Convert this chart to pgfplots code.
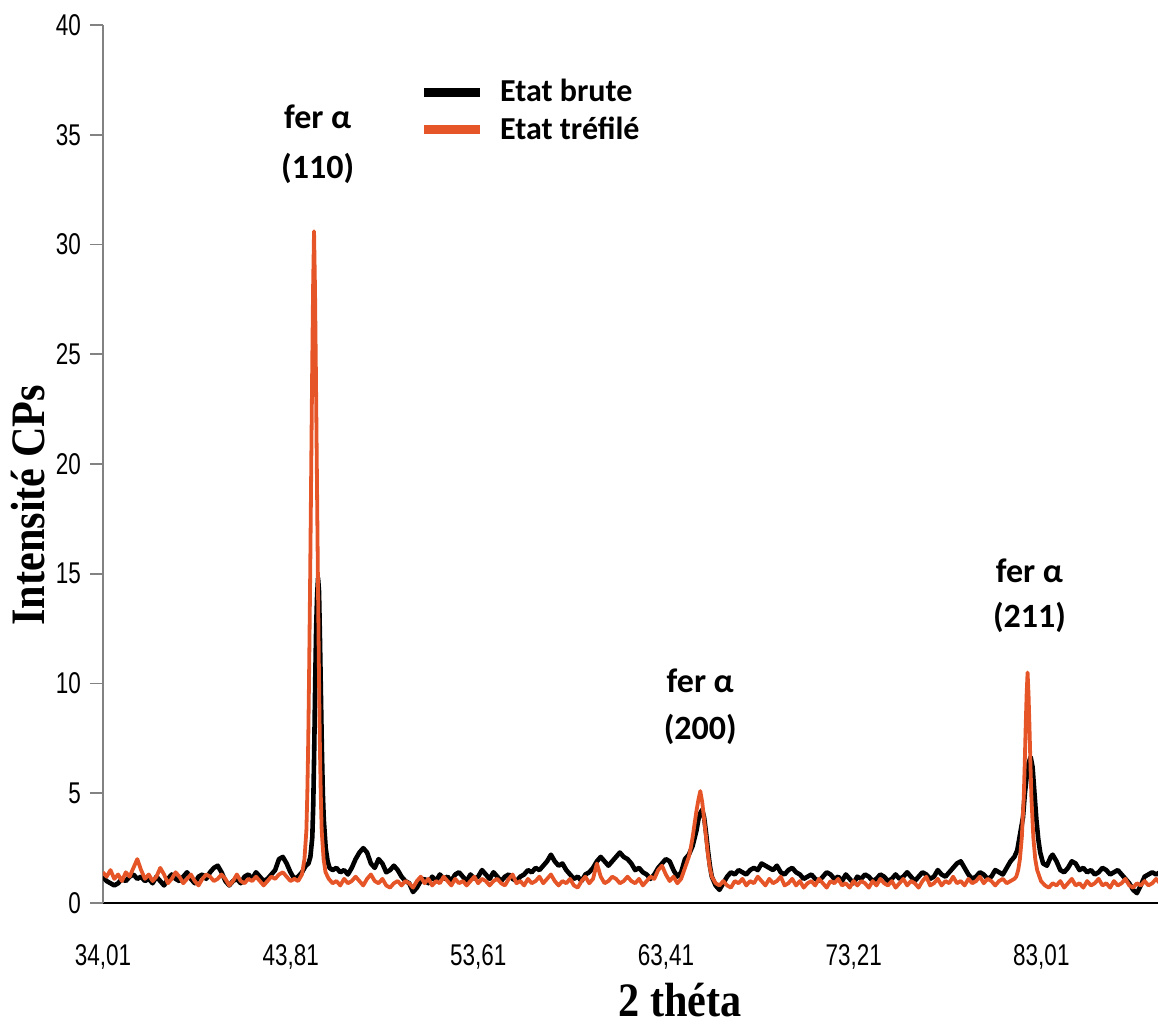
\documentclass[border=0pt]{standalone}
\usepackage{fontspec}
\usepackage{pgfplots}
\pgfplotsset{compat=1.18}
\usepackage{pgfplotstable}
\setmainfont{Liberation Sans}
\newfontfamily\tickfont[FakeStretch=0.75]{Liberation Sans}
\newfontfamily\labelfont[FakeStretch=0.88]{Liberation Serif}
\newfontfamily\peakfont{Carlito}
\definecolor{trefile}{RGB}{230,85,40}
\definecolor{axgray}{RGB}{130,130,130}

\pgfplotstableread{
x y
34.0 1.2
34.2 1.0
34.4 0.9
34.6 0.8
34.8 0.9
35.0 1.1
35.2 1.0
35.4 1.2
35.6 1.3
35.8 1.1
36.0 1.2
36.2 1.0
36.4 1.1
36.6 0.9
36.8 1.2
37.0 1.0
37.2 0.8
37.4 1.1
37.6 1.3
37.8 1.1
38.0 1.0
38.2 1.2
38.4 1.4
38.6 1.1
38.8 0.9
39.0 1.2
39.2 1.3
39.4 1.1
39.6 1.4
39.8 1.6
40.0 1.7
40.2 1.4
40.4 1.0
40.6 0.8
40.8 1.0
41.0 1.1
41.2 0.9
41.4 1.2
41.6 1.3
41.8 1.1
42.0 1.4
42.2 1.2
42.4 1.0
42.6 1.1
42.8 1.3
43.0 1.5
43.2 2.0
43.4 2.1
43.6 1.8
43.8 1.4
44.0 1.1
44.2 1.2
44.4 1.4
44.6 1.7
44.74 1.8
44.84 2.1
44.94 3.0
44.99 4.5
45.04 7.0
45.09 10.0
45.14 12.5
45.19 14.0
45.24 14.8
45.29 14.2
45.34 12.0
45.39 9.5
45.44 7.0
45.49 5.0
45.54 3.8
45.64 2.5
45.74 1.9
45.84 1.6
46.0 1.5
46.2 1.6
46.4 1.4
46.6 1.5
46.8 1.3
47.0 1.6
47.2 2.0
47.4 2.3
47.6 2.5
47.8 2.3
48.0 1.8
48.2 1.6
48.4 2.0
48.6 1.8
48.8 1.4
49.0 1.5
49.2 1.7
49.4 1.5
49.6 1.2
49.8 1.0
50.0 0.9
50.2 0.5
50.4 0.7
50.6 1.0
50.8 1.1
51.0 0.9
51.2 1.2
51.4 1.0
51.6 1.3
51.8 1.1
52.0 1.2
52.2 1.0
52.4 1.3
52.6 1.4
52.8 1.2
53.0 1.0
53.2 1.3
53.4 1.1
53.6 1.2
53.8 1.5
54.0 1.3
54.2 1.1
54.4 1.4
54.6 1.2
54.8 1.0
55.0 1.2
55.2 1.3
55.4 1.1
55.6 1.0
55.8 1.2
56.0 1.3
56.2 1.5
56.4 1.4
56.6 1.6
56.8 1.5
57.0 1.7
57.2 1.9
57.4 2.2
57.6 1.9
57.8 1.7
58.0 1.8
58.2 1.5
58.4 1.3
58.6 1.1
58.8 1.2
59.0 1.0
59.2 1.3
59.4 1.4
59.6 1.6
59.8 1.9
60.0 2.1
60.2 1.9
60.4 1.7
60.6 1.9
60.8 2.1
61.0 2.3
61.2 2.1
61.4 2.0
61.6 1.8
61.8 1.5
62.0 1.6
62.2 1.4
62.4 1.3
62.6 1.1
62.8 1.3
63.0 1.6
63.2 1.8
63.4 2.0
63.6 1.9
63.8 1.5
64.0 1.2
64.2 1.4
64.4 2.0
64.6 2.2
64.8 2.6
65.0 3.3
65.1 3.8
65.2 4.1
65.3 4.25
65.4 3.9
65.5 3.2
65.6 2.4
65.7 1.7
65.8 1.2
66.0 0.8
66.2 0.6
66.4 0.9
66.6 1.2
66.8 1.4
67.0 1.3
67.2 1.5
67.4 1.4
67.6 1.3
67.8 1.5
68.0 1.6
68.2 1.5
68.4 1.8
68.6 1.7
68.8 1.6
69.0 1.5
69.2 1.7
69.4 1.4
69.6 1.3
69.8 1.5
70.0 1.6
70.2 1.4
70.4 1.3
70.6 1.1
70.8 1.2
71.0 1.3
71.2 1.1
71.4 1.0
71.6 1.2
71.8 1.4
72.0 1.3
72.2 1.1
72.4 1.2
72.6 1.0
72.8 1.3
73.0 1.1
73.2 0.9
73.4 1.2
73.6 1.1
73.8 1.3
74.0 1.2
74.2 1.0
74.4 1.1
74.6 1.3
74.8 1.2
75.0 1.0
75.2 1.1
75.4 1.3
75.6 1.1
75.8 1.2
76.0 1.4
76.2 1.2
76.4 1.0
76.6 1.2
76.8 1.4
77.0 1.3
77.2 1.1
77.4 1.2
77.6 1.5
77.8 1.3
78.0 1.2
78.2 1.4
78.4 1.6
78.6 1.8
78.8 1.9
79.0 1.6
79.2 1.3
79.4 1.1
79.6 1.2
79.8 1.4
80.0 1.3
80.2 1.1
80.4 1.2
80.6 1.5
80.8 1.4
81.0 1.3
81.2 1.6
81.4 1.9
81.6 2.1
81.75 2.4
81.85 2.9
81.95 3.4
82.05 3.9
82.15 5.0
82.25 5.8
82.35 6.4
82.45 6.65
82.55 6.2
82.65 5.0
82.75 3.8
82.85 2.9
82.95 2.3
83.1 1.8
83.3 1.7
83.5 2.1
83.6 2.2
83.8 1.9
84.0 1.5
84.2 1.4
84.4 1.6
84.6 1.9
84.8 1.8
85.0 1.5
85.2 1.6
85.4 1.4
85.6 1.5
85.8 1.3
86.0 1.4
86.2 1.6
86.4 1.5
86.6 1.3
86.8 1.4
87.0 1.5
87.2 1.3
87.4 1.1
87.6 0.9
87.8 0.6
88.0 0.45
88.2 0.8
88.4 1.2
88.6 1.3
88.8 1.4
89.0 1.3
89.2 1.4
}\brute

\pgfplotstableread{
x y
34.0 1.4
34.2 1.2
34.4 1.5
34.6 1.1
34.8 1.3
35.0 1.0
35.2 1.4
35.4 1.2
35.6 1.6
35.8 2.0
36.0 1.5
36.2 1.1
36.4 1.3
36.6 1.0
36.8 1.2
37.0 1.6
37.2 1.3
37.4 0.9
37.6 1.1
37.8 1.4
38.0 1.2
38.2 0.9
38.4 1.1
38.6 1.3
38.8 1.0
39.0 0.8
39.2 1.1
39.4 1.3
39.6 1.2
39.8 1.0
40.0 1.1
40.2 1.3
40.4 1.1
40.6 0.8
40.8 1.0
41.0 1.3
41.2 1.0
41.4 0.9
41.6 1.1
41.8 1.0
42.0 1.2
42.2 1.0
42.4 0.8
42.6 1.0
42.8 1.2
43.0 1.1
43.2 1.3
43.4 1.4
43.6 1.2
43.8 1.0
44.0 1.1
44.2 1.0
44.4 1.3
44.53 2.0
44.63 3.3
44.68 5.0
44.73 7.5
44.78 11.0
44.83 15.0
44.88 19.5
44.93 24.0
44.98 28.0
45.03 30.6
45.08 28.0
45.13 24.0
45.18 19.5
45.23 15.0
45.28 11.0
45.33 7.5
45.38 5.0
45.43 3.3
45.53 2.0
45.63 1.4
45.8 1.1
46.0 0.9
46.2 1.0
46.4 0.8
46.6 1.1
46.8 0.9
47.0 1.0
47.2 1.2
47.4 1.0
47.6 0.8
47.8 1.1
48.0 1.3
48.2 1.0
48.4 0.9
48.6 1.1
48.8 0.8
49.0 0.7
49.2 0.9
49.4 1.0
49.6 0.8
49.8 1.0
50.0 0.9
50.2 0.7
50.4 1.0
50.6 1.2
50.8 0.9
51.0 1.1
51.2 0.8
51.4 1.0
51.6 0.9
51.8 1.2
52.0 1.0
52.2 0.8
52.4 1.1
52.6 0.9
52.8 1.0
53.0 0.8
53.2 1.0
53.4 1.2
53.6 0.9
53.8 1.1
54.0 1.0
54.2 0.8
54.4 1.0
54.6 1.1
54.8 0.9
55.0 0.8
55.2 1.1
55.4 1.3
55.6 0.9
55.8 1.0
56.0 0.8
56.2 1.1
56.4 0.9
56.6 1.0
56.8 1.2
57.0 0.9
57.2 1.1
57.4 1.3
57.6 1.0
57.8 0.8
58.0 1.0
58.2 0.9
58.4 1.1
58.6 0.8
58.8 0.7
59.0 1.0
59.2 1.2
59.4 0.9
59.6 1.1
59.8 1.8
60.0 1.2
60.2 0.9
60.4 1.0
60.6 1.2
60.8 1.1
61.0 0.9
61.2 1.0
61.4 1.2
61.6 1.0
61.8 0.9
62.0 1.1
62.2 0.8
62.4 1.0
62.6 1.2
62.8 1.1
63.0 1.5
63.2 1.7
63.4 1.3
63.6 1.0
63.8 1.2
64.0 0.9
64.2 1.1
64.4 1.6
64.6 2.1
64.7 2.5
64.8 3.0
64.9 3.6
65.0 4.2
65.1 4.7
65.2 5.1
65.3 4.6
65.4 3.8
65.5 3.0
65.6 2.2
65.7 1.6
65.8 1.2
66.0 0.9
66.2 0.8
66.4 1.0
66.6 0.8
66.8 0.7
67.0 1.0
67.2 0.9
67.4 1.1
67.6 0.8
67.8 1.0
68.0 0.9
68.2 1.2
68.4 1.0
68.6 0.8
68.8 1.1
69.0 0.9
69.2 1.0
69.4 1.2
69.6 0.8
69.8 0.9
70.0 1.1
70.2 0.8
70.4 1.0
70.6 0.7
70.8 0.9
71.0 1.0
71.2 0.8
71.4 1.1
71.6 0.9
71.8 0.7
72.0 1.0
72.2 0.9
72.4 1.1
72.6 0.8
72.8 0.9
73.0 0.7
73.2 1.0
73.4 0.8
73.6 1.0
73.8 0.9
74.0 0.7
74.2 1.0
74.4 0.8
74.6 1.1
74.8 0.9
75.0 0.8
75.2 1.0
75.4 0.7
75.6 0.9
75.8 1.1
76.0 0.8
76.2 1.0
76.4 0.9
76.6 0.7
76.8 1.0
77.0 1.2
77.2 0.8
77.4 0.9
77.6 1.1
77.8 0.8
78.0 1.0
78.2 0.9
78.4 1.2
78.6 0.9
78.8 1.0
79.0 0.8
79.2 1.1
79.4 0.9
79.6 1.0
79.8 1.2
80.0 0.9
80.2 1.1
80.4 1.0
80.6 0.8
80.8 1.0
81.0 1.1
81.2 0.9
81.4 1.0
81.6 1.1
81.7 1.2
81.8 1.5
81.89 2.0
81.99 3.0
82.09 4.8
82.14 6.3
82.19 8.0
82.24 9.5
82.29 10.5
82.34 9.5
82.39 8.0
82.44 6.3
82.49 4.8
82.59 3.0
82.69 2.0
82.79 1.5
82.99 1.0
83.2 0.8
83.4 0.7
83.6 0.9
83.8 0.8
84.0 1.0
84.2 0.7
84.4 0.9
84.6 1.1
84.8 0.8
85.0 0.9
85.2 0.7
85.4 1.0
85.6 0.8
85.8 0.9
86.0 1.1
86.2 0.8
86.4 0.9
86.6 0.7
86.8 1.0
87.0 0.8
87.2 0.9
87.4 1.1
87.6 0.8
87.8 0.7
88.0 0.9
88.2 0.8
88.4 1.0
88.6 0.8
88.8 0.9
89.0 1.1
89.2 0.9
}\trefiletab

\begin{document}
\begin{tikzpicture}
\begin{axis}[
  scale only axis,
  width=527.5pt, height=439pt,
  xmin=34.01, xmax=89.1, ymin=0, ymax=40,
  axis lines=left,
  axis line style={-},
  x axis line style={black, line width=1.2pt},
  y axis line style={axgray, line width=0.8pt},
  xtick={34.01,43.81,53.61,63.41,73.21,83.01},
  xticklabels={{34,01},{43,81},{53,61},{63,41},{73,21},{83,01}},
  x tick style={draw=none},
  ytick={0,5,10,15,20,25,30,35,40},
  y tick style={axgray, line width=0.8pt},
  tick align=outside,
  major tick length=6.5pt,
  /pgf/number format/assume math mode=true,
  xticklabel style={font=\tickfont\fontsize{15}{17}\selectfont, yshift=-10.5pt},
  yticklabel style={font=\tickfont\fontsize{15}{17}\selectfont, xshift=-1pt},
  xlabel={2 théta},
  xlabel style={at={(axis description cs:0.547,0)}, anchor=center, yshift=-48.5pt,
    font=\labelfont\bfseries\fontsize{24}{26}\selectfont},
  ylabel={Intensité CPs},
  ylabel style={at={(axis description cs:-0.0711,0.453)}, anchor=center,
    font=\labelfont\bfseries\fontsize{24}{26}\selectfont},
  legend style={at={(0.30,0.943)}, anchor=north west, draw=none, fill=none,
    font=\peakfont\bfseries\fontsize{16}{18}\selectfont,
    row sep=2pt, column sep=6pt, inner sep=0pt},
  legend cell align=left,
  clip=true,
]
\addplot[black, line width=2.3pt, line join=round,
  legend image code/.code={\draw[black, line width=4.5pt] (0cm,0cm) -- (0.97cm,0cm);}]
  table[x=x, y=y] {\brute};
\addlegendentry{Etat brute}
\addplot[trefile, line width=1.9pt, line join=round,
  legend image code/.code={\draw[trefile, line width=4.5pt] (0cm,0cm) -- (0.97cm,0cm);}]
  table[x=x, y=y] {\trefiletab};
\addlegendentry{Etat tréfilé}

\node[anchor=base, font=\peakfont\bfseries\fontsize{17}{19}\selectfont] at (axis cs:45.22,35.3) {fer α};
\node[anchor=base, font=\peakfont\bfseries\fontsize{17}{19}\selectfont] at (axis cs:45.22,33.0) {(110)};
\node[anchor=base, font=\peakfont\bfseries\fontsize{17}{19}\selectfont] at (axis cs:65.2,9.57) {fer α};
\node[anchor=base, font=\peakfont\bfseries\fontsize{17}{19}\selectfont] at (axis cs:65.2,7.47) {(200)};
\node[anchor=base, font=\peakfont\bfseries\fontsize{17}{19}\selectfont] at (axis cs:82.39,14.62) {fer α};
\node[anchor=base, font=\peakfont\bfseries\fontsize{17}{19}\selectfont] at (axis cs:82.39,12.53) {(211)};
\end{axis}
\pgfresetboundingbox
\path[use as bounding box] (-51.5pt,-61pt) rectangle (527.5pt,451.5pt);
\end{tikzpicture}
\end{document}
